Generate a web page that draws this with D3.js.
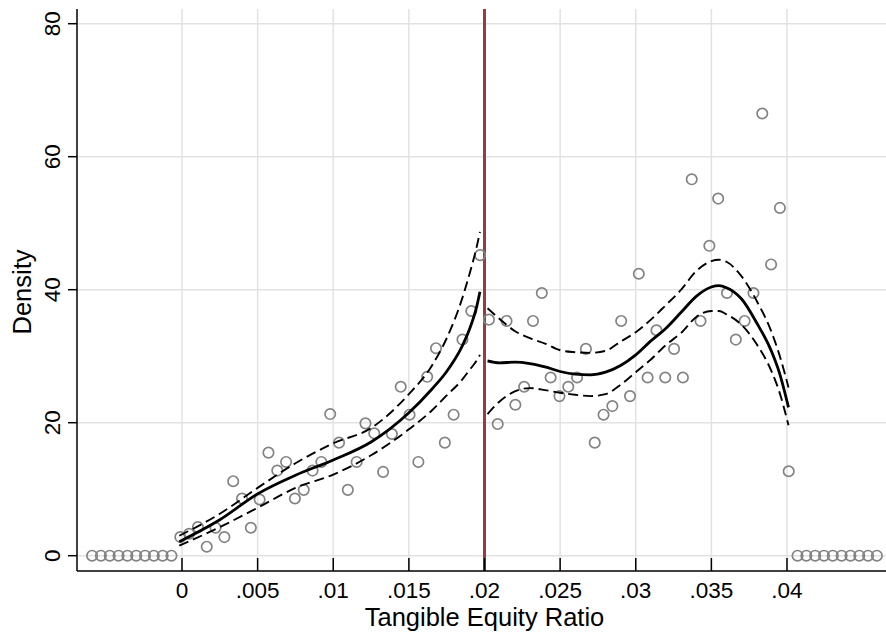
<!DOCTYPE html>
<html>
<head>
<meta charset="utf-8">
<script src="https://cdn.jsdelivr.net/npm/d3@7"></script>
<style>
  html, body { margin: 0; padding: 0; background: #fff; }
  svg text { font-family: "Liberation Sans", Arial, Helvetica, sans-serif; fill: #000; }
</style>
</head>
<body>
<svg id="chart" width="886" height="634"></svg>
<script>
// Density test around the 0.02 threshold: binned densities with local fits and 95% bands.
const cutoff = 0.02;
const binWidth = 0.000583;

// Bin densities below the cutoff (furthest bin first) and above it (nearest bin first)
const densityBelow = [
  0, 0, 0, 0, 0, 0, 0, 0, 0, 0,
  2.8, 3.3, 4.3, 1.35, 4.2, 2.8, 11.2, 8.6, 4.2, 8.45,
  15.5, 12.8, 14.1, 8.6, 9.9, 12.8, 14.1, 21.3, 17.0, 9.9,
  14.1, 19.9, 18.4, 12.6, 18.3, 25.4, 21.2, 14.1, 26.9, 31.2,
  17.0, 21.2, 32.5, 36.8, 45.2
];
const densityAbove = [
  35.5, 19.8, 35.3, 22.7, 25.4, 35.3, 39.5, 26.8, 24.0, 25.4,
  26.8, 31.1, 17.0, 21.2, 22.5, 35.3, 24.0, 42.4, 26.8, 33.9,
  26.8, 31.1, 26.8, 56.6, 35.3, 46.6, 53.7, 39.5, 32.5, 35.3,
  39.5, 66.5, 43.8, 52.3, 12.7,
  0, 0, 0, 0, 0, 0, 0, 0, 0, 0
];

// Local fit below the cutoff
const fitBelowX  = [-0.00018, 0.0025, 0.005, 0.0075, 0.01, 0.0125, 0.015, 0.0165, 0.0175, 0.0185, 0.019, 0.0195, 0.0197];
const fitBelowY  = [2.1, 5.4, 9.3, 12.1, 14.4, 17.1, 21.5, 25.0, 27.7, 31.4, 34.0, 37.6, 39.7];
const fitBelowLo = [1.5, 4.3, 7.2, 10.2, 12.2, 15.1, 19.0, 21.8, 24.1, 26.4, 27.9, 29.4, 30.2];
const fitBelowHi = [3.0, 6.3, 10.2, 13.9, 16.9, 19.2, 24.3, 28.5, 32.7, 38.5, 42.3, 46.6, 48.7];

// Local fit above the cutoff
const fitAboveX  = [0.0202, 0.021, 0.022, 0.023, 0.024, 0.025, 0.026, 0.027, 0.028, 0.029, 0.030, 0.031,
                    0.032, 0.033, 0.034, 0.035, 0.0355, 0.036, 0.037, 0.038, 0.039, 0.0395, 0.0401];
const fitAboveY  = [29.3, 29.0, 29.1, 28.9, 28.4, 27.7, 27.3, 27.2, 27.6, 28.6, 30.2, 32.3,
                    34.2, 36.6, 39.0, 40.4, 40.6, 40.3, 38.6, 35.0, 30.6, 27.5, 22.3];
const fitAboveLo = [21.3, 23.2, 24.7, 25.2, 24.9, 24.5, 24.2, 24.0, 24.3, 25.7, 27.6, 29.5,
                    31.7, 33.5, 35.9, 36.8, 36.8, 36.3, 34.7, 31.8, 27.6, 24.6, 19.6];
const fitAboveHi = [37.2, 35.6, 33.8, 32.7, 31.9, 30.9, 30.6, 30.5, 30.8, 32.2, 33.6, 35.5,
                    37.7, 40.0, 42.8, 44.3, 44.5, 44.2, 42.0, 38.3, 33.5, 30.2, 25.3];

const xTicks = [0, 0.005, 0.01, 0.015, 0.02, 0.025, 0.03, 0.035, 0.04];
const xTickLabels = ["0", ".005", ".01", ".015", ".02", ".025", ".03", ".035", ".04"];
const yTicks = [0, 20, 40, 60, 80];

const svg = d3.select("#chart");

const plot = { left: 77, right: 886, top: 9, bottom: 571 };
const x = d3.scaleLinear().domain([0, 0.04]).range([182, 787]);
const y = d3.scaleLinear().domain([0, 80]).range([555.7, 23.7]);

// Points: bin centre and density for every bin on both sides
const pointsBelow = densityBelow.map((d, i) => ({
  x: cutoff - (densityBelow.length - i - 0.5) * binWidth, y: d }));
const pointsAbove = densityAbove.map((d, i) => ({
  x: cutoff + (i + 0.5) * binWidth, y: d }));
const points = pointsBelow.concat(pointsAbove);

// Gridlines
const grid = svg.append("g");
grid.selectAll("line.gx").data(xTicks).join("line")
  .attr("x1", d => x(d)).attr("x2", d => x(d))
  .attr("y1", plot.top).attr("y2", plot.bottom)
  .attr("stroke", "#e2e2e2").attr("stroke-width", 1.5);
grid.selectAll("line.gy").data(yTicks).join("line")
  .attr("x1", plot.left).attr("x2", plot.right)
  .attr("y1", d => y(d)).attr("y2", d => y(d))
  .attr("stroke", "#e2e2e2").attr("stroke-width", 1.5);

// Threshold line
svg.append("line")
  .attr("x1", x(cutoff)).attr("x2", x(cutoff))
  .attr("y1", plot.top).attr("y2", plot.bottom)
  .attr("stroke", "#983a40").attr("stroke-width", 3);

// Binned densities
svg.append("g").selectAll("circle").data(points).join("circle")
  .attr("cx", d => x(d.x)).attr("cy", d => y(d.y)).attr("r", 5.2)
  .attr("fill", "none").attr("stroke", "#838383").attr("stroke-width", 1.7);

// Fitted densities with confidence bands
const line = d3.line().x(d => x(d[0])).y(d => y(d[1])).curve(d3.curveMonotoneX);
function drawFit(xs, ys, los, his) {
  const g = svg.append("g").attr("fill", "none").attr("stroke", "#000");
  [los, his].forEach(arr => {
    g.append("path").attr("d", line(xs.map((v, i) => [v, arr[i]])))
      .attr("stroke-width", 1.9).attr("stroke-dasharray", "10,5");
  });
  g.append("path").attr("d", line(xs.map((v, i) => [v, ys[i]])))
    .attr("stroke-width", 2.8);
}
drawFit(fitBelowX, fitBelowY, fitBelowLo, fitBelowHi);
drawFit(fitAboveX, fitAboveY, fitAboveLo, fitAboveHi);

// Axes
const xAxis = svg.append("g").attr("transform", `translate(0,${plot.bottom})`);
xAxis.append("line").attr("x1", plot.left).attr("x2", plot.right)
  .attr("stroke", "#000").attr("stroke-width", 1.5);
xAxis.selectAll("line.t").data(xTicks).join("line")
  .attr("x1", d => x(d)).attr("x2", d => x(d)).attr("y1", 0).attr("y2", -13)
  .attr("stroke", "#000").attr("stroke-width", 1.5);
xAxis.selectAll("text").data(xTicks).join("text")
  .attr("x", d => x(d)).attr("y", 27)
  .attr("text-anchor", "middle").attr("font-size", 22.5)
  .text((d, i) => xTickLabels[i]);

const yAxis = svg.append("g").attr("transform", `translate(${plot.left},0)`);
yAxis.append("line").attr("y1", plot.top).attr("y2", plot.bottom)
  .attr("stroke", "#000").attr("stroke-width", 1.5);
yAxis.selectAll("line.t").data(yTicks).join("line")
  .attr("y1", d => y(d)).attr("y2", d => y(d)).attr("x1", 0).attr("x2", -9)
  .attr("stroke", "#000").attr("stroke-width", 1.5);
yAxis.selectAll("text").data(yTicks).join("text")
  .attr("transform", d => `translate(-17,${y(d)}) rotate(-90)`)
  .attr("text-anchor", "middle").attr("font-size", 22.5)
  .text(d => d);

// Axis titles
svg.append("text").attr("x", 484.5).attr("y", 626)
  .attr("text-anchor", "middle").attr("font-size", 25.5)
  .text("Tangible Equity Ratio");
svg.append("text").attr("transform", "translate(30.5,292) rotate(-90)")
  .attr("text-anchor", "middle").attr("font-size", 25.5)
  .text("Density");
</script>
</body>
</html>
